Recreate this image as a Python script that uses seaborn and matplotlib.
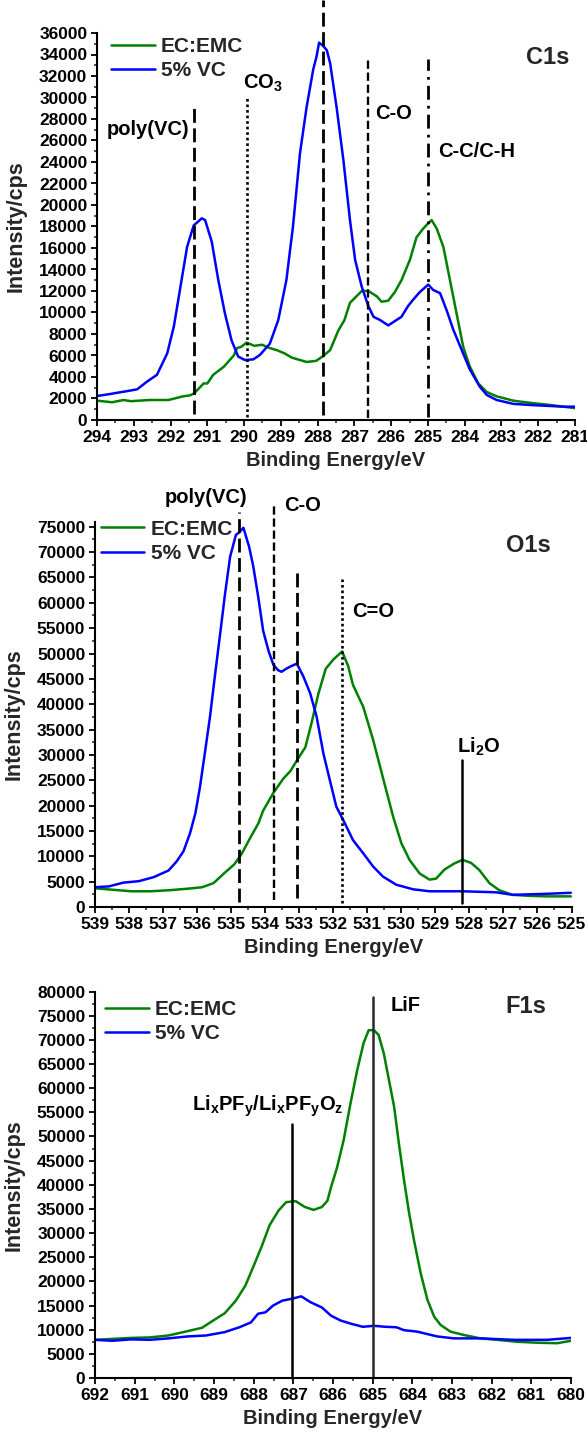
import numpy as np
import pandas as pd
import matplotlib
matplotlib.use("Agg")
import matplotlib.pyplot as plt
import seaborn as sns
from matplotlib.ticker import MultipleLocator

# ---------------- data ----------------
series_names = ["EC:EMC", "5% VC"]

# C1s
c1s_emc_be = [294.00, 293.59, 293.28, 293.08, 292.57, 292.37, 292.06, 291.66, 291.46, 291.35, 291.10, 291.00,
              290.84, 290.55, 290.28, 290.19, 290.08, 289.93, 289.72, 289.51, 289.31, 289.11, 288.90, 288.70,
              288.50, 288.30, 288.04, 287.85, 287.66, 287.44, 287.27, 287.12, 286.80, 286.62, 286.39, 286.26,
              286.08, 285.90, 285.72, 285.49, 285.31, 285.13, 284.99, 284.90, 284.76, 284.58, 284.40, 284.22,
              284.04, 283.86, 283.63, 283.40, 283.13, 282.68, 282.23, 281.68, 281.00]
c1s_emc_cps = [1800, 1650, 1860, 1750, 1860, 1860, 1860, 2200, 2300, 2500, 3400, 3400,
               4200, 4960, 6000, 6700, 6800, 7200, 6900, 7000, 6700, 6500, 6200, 5800,
               5600, 5400, 5500, 5950, 6500, 8300, 9300, 10900, 12000, 12000, 11500, 11000,
               11100, 11900, 13000, 14900, 17000, 17800, 18300, 18600, 17800, 16100, 13000, 9900,
               6800, 4960, 3400, 2600, 2200, 1800, 1600, 1400, 1100]
c1s_vc_be = [294.00, 293.64, 293.28, 292.91, 292.64, 292.37, 292.09, 291.91, 291.73, 291.55, 291.37, 291.15,
             291.06, 290.88, 290.70, 290.52, 290.34, 290.16, 289.98, 289.75, 289.57, 289.30, 289.07, 288.85,
             288.67, 288.48, 288.30, 288.12, 288.03, 287.96, 287.85, 287.75, 287.66, 287.48, 287.30, 287.12,
             286.98, 286.80, 286.62, 286.48, 286.30, 286.08, 285.90, 285.72, 285.54, 285.40, 285.22, 284.99,
             284.86, 284.67, 284.49, 284.31, 284.08, 283.86, 283.59, 283.40, 283.13, 282.68, 282.23, 281.32,
             281.00]
c1s_vc_cps = [2230, 2420, 2630, 2850, 3570, 4200, 6200, 8700, 12400, 16100, 18100, 18760,
              18600, 16600, 13000, 9900, 7400, 5900, 5580, 5640, 6050, 7100, 9300, 13000,
              18000, 24800, 29100, 32600, 33800, 35100, 34800, 34400, 33200, 29000, 24200, 18600,
              14900, 12400, 10600, 9600, 9300, 8800, 9200, 9600, 10600, 11200, 11900, 12600,
              12100, 11800, 10200, 8400, 6500, 4700, 3100, 2330, 1860, 1500, 1400, 1240,
              1240]
c1s_ref_be = [291.35, 289.93, 287.84, 286.62, 284.99]
c1s_ref_top = [29100, 30100, 39100, 33600, 33600]
c1s_ref_bottom = [600, 300, 450, 200, 300]
c1s_ref_labels = ["poly(VC)", "CO$_3$", "", "C-O", "C-C/C-H"]

# O1s
o1s_emc_be = [539.00, 538.48, 537.93, 537.38, 536.84, 536.29, 535.85, 535.52, 535.23, 534.91, 534.69, 534.45,
              534.20, 534.06, 533.76, 533.47, 533.26, 533.07, 532.82, 532.63, 532.44, 532.22, 532.00, 531.74,
              531.56, 531.42, 531.12, 530.83, 530.54, 530.24, 530.00, 529.76, 529.46, 529.17, 528.98, 528.73,
              528.44, 528.20, 527.95, 527.71, 527.41, 527.12, 526.73, 526.24, 525.75, 525.02]
o1s_emc_cps = [3700, 3400, 3100, 3100, 3300, 3600, 3900, 4700, 6500, 8400, 10500, 13500,
               16500, 19000, 22500, 25300, 26800, 28900, 31500, 36500, 42000, 47000, 48800, 50400,
               47500, 43800, 39500, 33000, 25500, 17800, 12600, 9300, 6600, 5400, 5600, 7400,
               8600, 9300, 8700, 7300, 4700, 3300, 2400, 2200, 2100, 2100]
o1s_vc_be = [539.00, 538.59, 538.17, 537.71, 537.27, 536.84, 536.60, 536.40, 536.21, 536.05, 535.92, 535.78,
             535.62, 535.47, 535.33, 535.19, 535.03, 534.86, 534.78, 534.64, 534.47, 534.35, 534.20, 534.06,
             533.90, 533.76, 533.62, 533.52, 533.38, 533.27, 533.07, 532.88, 532.68, 532.49, 532.29, 532.10,
             531.91, 531.71, 531.42, 531.12, 530.83, 530.54, 530.15, 529.66, 529.17, 528.20, 527.22, 526.73,
             525.75, 525.02]
o1s_vc_cps = [3900, 4070, 4800, 5100, 5900, 7200, 9000, 11000, 14500, 18500, 23500, 30000,
              37600, 46000, 53500, 61200, 69100, 73400, 73800, 74800, 71000, 67200, 61000, 54500,
              50500, 47800, 46700, 46400, 47000, 47400, 48000, 45500, 42200, 37600, 30300, 25000,
              19800, 17200, 13200, 10600, 8000, 6000, 4400, 3500, 3100, 3100, 2900, 2400,
              2600, 2800]
o1s_ref_be = [534.77, 533.73, 533.06, 531.73, 528.21]
o1s_ref_top = [78000, 79300, 66100, 64600, 29000]
o1s_ref_bottom = [1000, 1400, 1800, 800, 800]
o1s_ref_labels = ["poly(VC)", "C-O", "", "C=O", "Li$_2$O"]

# F1s
f1s_emc_be = [692.00, 691.56, 691.09, 690.62, 690.15, 689.77, 689.30, 689.02, 688.73, 688.45, 688.21, 687.98,
              687.79, 687.60, 687.37, 687.18, 686.94, 686.71, 686.49, 686.28, 686.14, 686.05, 685.90, 685.73,
              685.56, 685.39, 685.23, 685.10, 684.97, 684.85, 684.72, 684.59, 684.46, 684.34, 684.21, 684.08,
              683.96, 683.79, 683.62, 683.45, 683.29, 683.04, 682.70, 682.28, 681.86, 681.36, 680.85, 680.35,
              680.00]
f1s_emc_cps = [7900, 8100, 8300, 8400, 8800, 9500, 10400, 11900, 13400, 16000, 19100, 23600,
               27400, 31600, 34700, 36400, 36600, 35400, 34800, 35400, 36700, 39500, 43500, 49300,
               56800, 63700, 69300, 72000, 72000, 71000, 67200, 61700, 56200, 48600, 41000, 34100,
               28600, 21700, 16200, 12700, 11000, 9600, 8900, 8200, 7900, 7500, 7300, 7200,
               7700]
f1s_vc_be = [692.00, 691.56, 691.09, 690.62, 690.15, 689.67, 689.20, 688.73, 688.36, 688.07, 687.89, 687.70,
             687.51, 687.28, 687.04, 686.80, 686.57, 686.28, 686.05, 685.81, 685.53, 685.25, 684.97, 684.68,
             684.40, 684.21, 683.88, 683.37, 682.95, 682.28, 681.44, 680.60, 680.00]
f1s_vc_cps = [7900, 7700, 8000, 7900, 8200, 8600, 8800, 9500, 10500, 11500, 13300, 13600,
              15000, 16000, 16400, 16900, 15700, 14600, 12900, 11900, 11200, 10600, 10800, 10600,
              10500, 9900, 9600, 8600, 8200, 8200, 7900, 7900, 8300]
f1s_ref_be = [687.04, 684.99]
f1s_ref_top = [52600, 78900]
f1s_ref_bottom = [0, 0]
f1s_ref_labels = ["Li$_x$PF$_y$/Li$_x$PF$_y$O$_z$", "LiF"]

panel_names = ["C1s", "O1s", "F1s"]
x_label = "Binding Energy/eV"
y_label = "Intensity/cps"

# ---------------- style ----------------
sns.set_style("ticks")
plt.rcParams["font.family"] = ["Liberation Sans", "DejaVu Sans"]
plt.rcParams["font.weight"] = "bold"
plt.rcParams["axes.labelweight"] = "bold"
plt.rcParams["mathtext.fontset"] = "custom"
plt.rcParams["mathtext.rm"] = "Liberation Sans:bold"
plt.rcParams["mathtext.it"] = "Liberation Sans:bold"
plt.rcParams["mathtext.bf"] = "Liberation Sans:bold"
plt.rcParams["mathtext.default"] = "rm"

GREEN = "#008000"
BLUE = "#0000FF"
palette = {series_names[0]: GREEN, series_names[1]: BLUE}

fig = plt.figure(figsize=(5.87, 14.32), dpi=100)
W, H = 587.0, 1432.0


def add_axes(left, top, right, bottom):
    return fig.add_axes([left / W, 1 - bottom / H, (right - left) / W, (bottom - top) / H])


def frame(df_emc_be, df_emc_cps, df_vc_be, df_vc_cps):
    a = pd.DataFrame({"be": df_emc_be, "cps": df_emc_cps, "series": series_names[0]})
    b = pd.DataFrame({"be": df_vc_be, "cps": df_vc_cps, "series": series_names[1]})
    return pd.concat([a, b], ignore_index=True)


def style_axes(ax, xlim, ylim, ymajor, yminor):
    ax.set_xlim(*xlim)
    ax.set_ylim(*ylim)
    ax.xaxis.set_major_locator(MultipleLocator(1))
    ax.xaxis.set_minor_locator(MultipleLocator(0.5))
    ax.yaxis.set_major_locator(MultipleLocator(ymajor))
    ax.yaxis.set_minor_locator(MultipleLocator(yminor))
    for s in ["top", "right"]:
        ax.spines[s].set_visible(False)
    for s in ["left", "bottom"]:
        ax.spines[s].set_linewidth(1.5)
        ax.spines[s].set_color("black")
    ax.tick_params(which="major", direction="out", length=4.5, width=1.3, labelsize=12.5, colors="black")
    ax.tick_params(which="minor", direction="out", length=2.5, width=1.1)
    ax.tick_params(axis="y", which="major", pad=2.5)
    ax.tick_params(axis="x", which="major", pad=3)
    for lab in ax.get_xticklabels() + ax.get_yticklabels():
        lab.set_fontweight("bold")
    ax.set_xlabel(x_label, fontsize=14.5, fontweight="bold")
    ax.set_ylabel(y_label, fontsize=15.5, fontweight="bold")
    ax.xaxis.set_label_coords(0.5, -0.080)
    ax.yaxis.set_label_coords(-0.148, 0.5)


def draw(ax, df, legend_anchor):
    sns.lineplot(data=df, x="be", y="cps", hue="series", hue_order=series_names, palette=palette,
                 linewidth=1.8, ax=ax, legend=False, sort=False)
    handles = ax.get_lines()[:2]
    ax.legend(handles, series_names, loc="upper left", bbox_to_anchor=legend_anchor, frameon=False,
              borderpad=0, borderaxespad=0, handlelength=2.1, handletextpad=0.3, labelspacing=0.25,
              prop={"weight": "bold", "size": 15})


LONG_DASH = (0, (5, 2))
SHORT_DASH = (0, (3.5, 1.6))
DOT = (0, (1, 1.1))
DASH_DOT = (0, (5, 2.2, 1, 2.2))
txt = dict(fontsize=14.5, fontweight="bold", color="black", clip_on=False)

# ---------------- C1s ----------------
ax1 = add_axes(97, 33, 575, 420)
draw(ax1, frame(c1s_emc_be, c1s_emc_cps, c1s_vc_be, c1s_vc_cps), (0.029, 0.99))
style_axes(ax1, (294, 281), (0, 36000), 2000, 1000)
c1s_styles = [(LONG_DASH, 2.0), (DOT, 1.9), (LONG_DASH, 2.0), (SHORT_DASH, 1.7), (DASH_DOT, 2.0)]
for e, top, bot, (ls, lw) in zip(c1s_ref_be, c1s_ref_top, c1s_ref_bottom, c1s_styles):
    ax1.plot([e, e], [bot, top], color="black", linestyle=ls, linewidth=lw, clip_on=False)
ax1.text(291.49, 27000, c1s_ref_labels[0], ha="right", va="center", **txt)
ax1.text(290.02, 31300, c1s_ref_labels[1], ha="left", va="center", **txt)
ax1.text(286.44, 28500, c1s_ref_labels[3], ha="left", va="center", **txt)
ax1.text(284.72, 25000, c1s_ref_labels[4], ha="left", va="center", **txt)
ax1.text(281.14, 33700, panel_names[0], ha="right", va="center", fontsize=17, fontweight="bold")

# ---------------- O1s ----------------
ax2 = add_axes(95, 521.7, 571.5, 907)
draw(ax2, frame(o1s_emc_be, o1s_emc_cps, o1s_vc_be, o1s_vc_cps), (0.012, 1.005))
style_axes(ax2, (539, 525), (0, 76000), 5000, 2500)
o1s_styles = [(LONG_DASH, 2.0), (SHORT_DASH, 1.7), (LONG_DASH, 2.0), (DOT, 1.9), ("-", 1.8)]
for e, top, bot, (ls, lw) in zip(o1s_ref_be, o1s_ref_top, o1s_ref_bottom, o1s_styles):
    ax2.plot([e, e], [bot, top], color="black", linestyle=ls, linewidth=lw, clip_on=False)
ax2.text(534.51, 80800, o1s_ref_labels[0], ha="right", va="center", **txt)
ax2.text(533.43, 79100, o1s_ref_labels[1], ha="left", va="center", **txt)
ax2.text(531.46, 58200, o1s_ref_labels[3], ha="left", va="center", **txt)
ax2.text(528.36, 31500, o1s_ref_labels[4], ha="left", va="center", **txt)
ax2.text(525.61, 71400, panel_names[1], ha="right", va="center", fontsize=17, fontweight="bold")

# ---------------- F1s ----------------
ax3 = add_axes(95, 991.5, 571.0, 1378)
draw(ax3, frame(f1s_emc_be, f1s_emc_cps, f1s_vc_be, f1s_vc_cps), (0.021, 0.978))
style_axes(ax3, (692, 680), (0, 80000), 5000, 2500)
f1s_colors = ["black", "#2a2a2a"]
for e, top, bot, c in zip(f1s_ref_be, f1s_ref_top, f1s_ref_bottom, f1s_colors):
    ax3.plot([e, e], [bot, top], color=c, linestyle="-", linewidth=1.8, clip_on=False)
ax3.text(687.64, 56200, f1s_ref_labels[0], ha="center", va="center", **txt)
ax3.text(684.54, 77000, f1s_ref_labels[1], ha="left", va="center", **txt)
ax3.text(680.62, 76900, panel_names[2], ha="right", va="center", fontsize=17, fontweight="bold")

fig.savefig("out.png", dpi=100)
